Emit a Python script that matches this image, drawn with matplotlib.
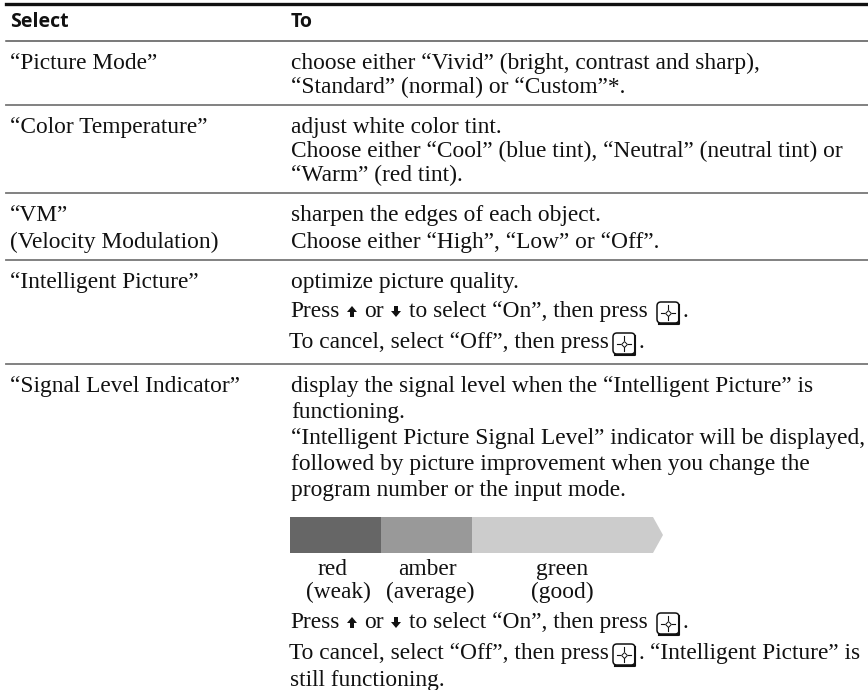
import matplotlib
matplotlib.use('Agg')
import matplotlib.pyplot as plt
from matplotlib.patches import FancyBboxPatch, Polygon, Rectangle

# Table content
headers = ['Select', 'To']
select_labels = ['“Picture Mode”', '“Color Temperature”', '“VM”\n(Velocity Modulation)',
                 '“Intelligent Picture”', '“Signal Level Indicator”']
row1 = ['choose either “Vivid” (bright, contrast and sharp),',
        '“Standard” (normal) or “Custom”*.']
row2 = ['adjust white color tint.',
        'Choose either “Cool” (blue tint), “Neutral” (neutral tint) or',
        '“Warm” (red tint).']
row3 = ['sharpen the edges of each object.',
        'Choose either “High”, “Low” or “Off”.']
row4 = ['optimize picture quality.']
row5 = ['display the signal level when the “Intelligent Picture” is',
        'functioning.',
        '“Intelligent Picture Signal Level” indicator will be displayed,',
        'followed by picture improvement when you change the',
        'program number or the input mode.']
level_names = ['red', 'amber', 'green']
level_notes = ['(weak)', '(average)', '(good)']
level_widths = [91, 91, 191]
level_colors = ['#666666', '#999999', '#cccccc']

SERIF = 'Liberation Serif'
SANS = 'Open Sans'
FS = 16.8
INK = '#111111'

fig = plt.figure(figsize=(8.68, 6.90), dpi=100)
ax = fig.add_axes([0, 0, 1, 1])
ax.set_xlim(0, 868)
ax.set_ylim(690, 0)
ax.axis('off')


def line(x, y, s, **kw):
    ax.text(x, y, s, family=SERIF, fontsize=FS, va='baseline', color=INK, **kw)


def enter_key(x, y):
    # rounded key with a dotted cross, heavier on the lower right
    ax.add_patch(FancyBboxPatch((x + 1, y - 15), 22, 21, boxstyle='round,pad=0,rounding_size=4',
                                fc='white', ec=INK, lw=1.1))
    ax.plot([x + 3, x + 23, x + 23], [y + 6.5, y + 6.5, y - 12], color=INK, lw=1.5)
    ax.plot([x + 12], [y - 4.5], marker='D', ms=3, mfc='white', mec=INK, mew=0.7)
    ax.plot([x + 12, x + 12], [y - 12, y - 8], color=INK, lw=0.8)
    ax.plot([x + 12, x + 12], [y - 1, y + 3], color=INK, lw=0.8)
    ax.plot([x + 5, x + 8], [y - 4.5, y - 4.5], color=INK, lw=0.8)
    ax.plot([x + 16, x + 19], [y - 4.5, y - 4.5], color=INK, lw=0.8)


def arrow(x, y, up):
    # fat little arrow, 10 px wide and 11 px tall, sitting on the baseline
    top = y - 11
    if up:
        pts = [(x + 5, top), (x + 10, top + 6), (x + 7, top + 6), (x + 7, y),
               (x + 3, y), (x + 3, top + 6), (x, top + 6)]
    else:
        pts = [(x + 5, y), (x + 10, y - 6), (x + 7, y - 6), (x + 7, top),
               (x + 3, top), (x + 3, y - 6), (x, y - 6)]
    ax.add_patch(Polygon(pts, fc=INK, ec='none'))


def press_line(y):
    line(290, y, 'Press')
    arrow(347, y, True)
    line(364, y, 'or')
    arrow(391, y, False)
    line(409, y, 'to select “On”, then press')
    enter_key(656, y)
    line(683, y, '.')


# Rules
ax.plot([6, 868], [4, 4], color=INK, lw=2.4)
ax.plot([6, 868], [41, 41], color='#555555', lw=1.1)
for ry in [105, 193, 260, 364]:
    ax.plot([6, 868], [ry, ry], color='#777777', lw=1.3)

# Header
ax.text(10, 27, headers[0], family=SANS, fontsize=14, fontweight='bold', va='baseline', color=INK)
ax.text(291, 27, headers[1], family=SANS, fontsize=14, fontweight='bold', va='baseline', color=INK)

# Left column
line(10, 69, select_labels[0])
line(10, 133, select_labels[1])
line(10, 221, select_labels[2].split('\n')[0])
line(10, 248, select_labels[2].split('\n')[1])
line(10, 288, select_labels[3])
line(10, 392, select_labels[4])

# Right column
for y, s in zip([69, 93], row1):
    line(291, y, s)
for y, s in zip([133, 157, 181], row2):
    line(291, y, s)
for y, s in zip([221, 248], row3):
    line(291, y, s)
line(291, 288, row4[0])
press_line(317)
line(289, 348, 'To cancel, select “Off”, then press')
enter_key(612, 348)
line(639, 348, '.')
for y, s in zip([392, 418, 444, 470, 496], row5):
    line(291, y, s)

# Level bar
left = 290
for w, c in zip(level_widths, level_colors):
    if c == level_colors[-1]:
        ax.add_patch(Polygon([(left, 517), (left + w - 10, 517), (left + w, 535),
                              (left + w - 10, 553), (left, 553)], fc=c, ec='none'))
    else:
        ax.add_patch(Rectangle((left, 517), w, 36, fc=c, ec='none'))
    left += w
for cx, name in zip([332, 427, 562], level_names):
    ax.text(cx, 575, name, family=SERIF, fontsize=FS, ha='center', va='baseline', color=INK)
for cx, note in zip([338, 430, 562], level_notes):
    ax.text(cx, 598, note, family=SERIF, fontsize=FS, ha='center', va='baseline', color=INK)

press_line(628)
line(289, 659, 'To cancel, select “Off”, then press')
enter_key(612, 659)
line(639, 659, '.')
line(650, 659, '“Intelligent Picture” is')
line(290, 686, 'still functioning.')

fig.savefig('out.png', dpi=100)
